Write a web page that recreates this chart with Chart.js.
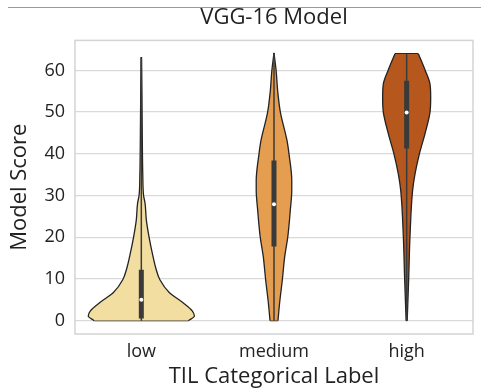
<!DOCTYPE html>
<html>
<head>
<meta charset="utf-8">
<script src="https://cdn.jsdelivr.net/npm/chart.js@4/dist/chart.umd.min.js"></script>
<style>
  body { margin: 0; background: #fff; }
  #rahmen { position: relative; width: 481px; height: 390px; }
  #linie { position: absolute; left: 8px; right: 0; top: 7px; border-top: 1px solid #9a9a9a; }
</style>
</head>
<body>
<div id="rahmen">
  <canvas id="chart"></canvas>
  <div id="linie"></div>
</div>
<script>
// Kategorien und Werte
const kategorien = ["low", "medium", "high"];

// Umriss der Violinen: Stufen (Model Score) und halbe Breite (in Kategorie-Einheiten)
const lowStufen = [0, 1.1, 2.3, 4.4, 6.7, 9.8, 12.5, 15.4, 20.1, 24.1, 28.2, 30, 35, 45, 55, 63.2];
const lowBreite = [0.355, 0.40, 0.385, 0.31, 0.212, 0.14, 0.11, 0.088, 0.058, 0.038, 0.028, 0.017, 0.011, 0.007, 0.0045, 0.0015];

const mediumStufen = [0, 4.4, 9.8, 15.4, 20.1, 26.5, 31.3, 33.6, 40, 43.2, 50, 55, 60, 64.2];
const mediumBreite = [0.030, 0.043, 0.063, 0.081, 0.104, 0.123, 0.134, 0.134, 0.113, 0.098, 0.048, 0.028, 0.016, 0.0];

const highStufen = [0, 9.8, 20.1, 31.3, 35.2, 40, 44.8, 50, 53.5, 56.7, 60, 64];
const highBreite = [0.004, 0.015, 0.025, 0.045, 0.063, 0.096, 0.138, 0.176, 0.181, 0.176, 0.14, 0.088];

// Box-Werte
const q1 = [0.5, 17.8, 41.3];
const median = [5, 27.9, 49.9];
const q3 = [12.2, 38.4, 57.5];
const minimum = [0, 0, 0];
const maximum = [63, 64, 64];

const farben = ["#f2dea1", "#e59d50", "#b6571e"];
const umriss = "#222222";
const boxFarbe = "#3a3a3a";

const stufen = [lowStufen, mediumStufen, highStufen];
const breiten = [lowBreite, mediumBreite, highBreite];

const datasets = [];

kategorien.forEach((k, i) => {
    const s = stufen[i];
    const b = breiten[i];
    const rechts = s.map((v, j) => ({ x: i + b[j], y: v }));
    const links = s.map((v, j) => ({ x: i - b[j], y: v }));
    [rechts, links].forEach((rand) => {
        datasets.push({
            data: rand,
            borderColor: umriss,
            borderWidth: 1.3,
            backgroundColor: farben[i],
            fill: { value: i },
            pointRadius: 0,
            cubicInterpolationMode: "monotone",
            order: 5,
        });
    });
    // Deckel unten und oben
    const n = s.length - 1;
    [[0, s[0]], [n, s[n]]].forEach(([j, v]) => {
        datasets.push({
            data: [{ x: i - b[j], y: v }, { x: i + b[j], y: v }],
            borderColor: umriss,
            borderWidth: 1.3,
            fill: false,
            pointRadius: 0,
            order: 5,
        });
    });
    // Whisker
    datasets.push({
        data: [{ x: i, y: minimum[i] }, { x: i, y: maximum[i] }],
        borderColor: boxFarbe,
        borderWidth: 1.5,
        fill: false,
        pointRadius: 0,
        order: 3,
    });
    // Box
    datasets.push({
        data: [{ x: i, y: q1[i] }, { x: i, y: q3[i] }],
        borderColor: boxFarbe,
        borderWidth: 5,
        borderCapStyle: "butt",
        fill: false,
        pointRadius: 0,
        order: 2,
    });
    // Median
    datasets.push({
        data: [{ x: i, y: median[i] }],
        showLine: false,
        pointRadius: 2,
        pointBorderWidth: 0,
        pointBackgroundColor: "#ffffff",
        order: 1,
    });
});

// grauer Rahmen um die Zeichenflaeche
const rahmenPlugin = {
    id: "rahmenPlugin",
    afterDraw(chart) {
        const a = chart.chartArea;
        const c = chart.ctx;
        c.save();
        c.strokeStyle = "#d4d4d4";
        c.lineWidth = 1.5;
        c.strokeRect(a.left, a.top, a.right - a.left, a.bottom - a.top);
        c.restore();
    },
};

const schrift = "'Open Sans', 'Noto Sans', sans-serif";

const ctx = document.getElementById("chart").getContext("2d");
const myChart = new Chart(ctx, {
    type: "line",
    data: { datasets: datasets },
    options: {
        indexAxis: "y",
        responsive: true,
        maintainAspectRatio: false,
        animation: false,
        layout: { padding: { left: 7, right: 8, top: 0, bottom: 0 } },
        plugins: {
            legend: { display: false },
            tooltip: { enabled: false },
        },
        scales: {
            x: {
                type: "linear",
                min: -0.5,
                max: 2.5,
                grid: { display: false, drawTicks: false },
                border: { display: false },
                afterBuildTicks: (achse) => {
                    achse.ticks = kategorien.map((k, i) => ({ value: i }));
                },
                ticks: {
                    color: "#222",
                    padding: 9,
                    font: { family: schrift, size: 18, lineHeight: 1.0 },
                    callback: (v) => kategorien[v] ?? "",
                },
                title: {
                    display: true,
                    text: "TIL Categorical Label",
                    color: "#222",
                    font: { family: schrift, size: 22, lineHeight: 1.0 },
                    padding: { top: -4, bottom: 2 },
                },
            },
            // Achse oben nur fuer den Diagrammtitel (zentriert ueber der Zeichenflaeche)
            x2: {
                type: "linear",
                position: "top",
                min: -0.5,
                max: 2.5,
                grid: { display: false, drawTicks: false },
                border: { display: false },
                ticks: { display: false },
                title: {
                    display: true,
                    text: "VGG-16 Model",
                    color: "#222",
                    font: { family: schrift, size: 22 },
                    padding: { top: 5, bottom: 9 },
                },
            },
            y: {
                type: "linear",
                min: -3.2,
                max: 67.2,
                grid: { color: "#d9d9d9", lineWidth: 1.3, drawTicks: false },
                border: { display: false },
                ticks: {
                    stepSize: 10,
                    includeBounds: false,
                    color: "#222",
                    padding: 10,
                    font: { family: schrift, size: 18 },
                },
                title: {
                    display: true,
                    text: "Model Score",
                    color: "#222",
                    font: { family: schrift, size: 22 },
                    padding: { top: 0, bottom: 1 },
                },
            },
        },
    },
    plugins: [rahmenPlugin],
});
</script>
</body>
</html>
